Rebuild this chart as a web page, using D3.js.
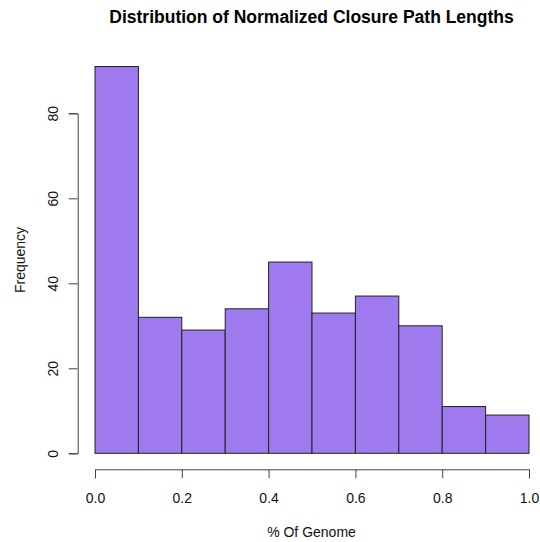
<!DOCTYPE html>
<html><head><meta charset="utf-8">
<script src="https://cdn.jsdelivr.net/npm/d3@7"></script>
<style>body{margin:0;background:#fff}svg{display:block}text{font-family:"Liberation Sans",Arial,sans-serif}</style>
</head><body>
<svg id="c" width="540" height="542"></svg>
<script>
const binEdges = [0,0.1,0.2,0.3,0.4,0.5,0.6,0.7,0.8,0.9,1.0];
const counts = [91,32,29,34,45,33,37,30,11,9];
const xTicks = [0,0.2,0.4,0.6,0.8,1.0];
const yTicks = [0,20,40,60,80];
const title = "Distribution of Normalized Closure Path Lengths";
const xLabel = "% Of Genome";
const yLabel = "Frequency";

const svg = d3.select("#c");
const x = d3.scaleLinear().domain([0,1]).range([95,529]);
const y = d3.scaleLinear().domain([0,80]).range([453.3,113.3]);

svg.append("g").selectAll("rect").data(counts).join("rect")
  .attr("x", (d,i)=>x(binEdges[i]))
  .attr("width", (d,i)=>x(binEdges[i+1])-x(binEdges[i]))
  .attr("y", d=>y(d))
  .attr("height", d=>y(0)-y(d))
  .attr("fill","#9f79ee").attr("stroke","#222").attr("stroke-width",1);

const xa = svg.append("g").attr("transform","translate(0,469.3)")
  .call(d3.axisBottom(x).tickValues(xTicks).tickFormat(d3.format(".1f")).tickSize(9));
const ya = svg.append("g").attr("transform","translate(77.7,0)")
  .call(d3.axisLeft(y).tickValues(yTicks).tickFormat(d3.format("d")).tickSize(9));
[xa,ya].forEach(a=>{
  a.select(".domain").attr("stroke","#444");
  a.selectAll(".tick line").attr("stroke","#444");
  a.selectAll("text").attr("font-size",14).attr("fill","#111").attr("font-family","Liberation Sans, Arial, sans-serif");
});
xa.selectAll(".tick text").attr("y",33.7).attr("dy",0);
ya.selectAll(".tick text").attr("text-anchor","middle").attr("dy",0)
  .attr("transform","rotate(-90)").attr("x",0).attr("y",-20);

svg.append("text").attr("x",311.5).attr("y",22.5).attr("text-anchor","middle")
  .attr("font-size",17.5).attr("font-weight","bold").attr("fill","#000").text(title);
svg.append("text").attr("x",311.5).attr("y",537).attr("text-anchor","middle")
  .attr("font-size",14).attr("fill","#111").text(xLabel);
svg.append("text").attr("transform","translate(25,260) rotate(-90)").attr("text-anchor","middle")
  .attr("font-size",14).attr("fill","#111").text(yLabel);
</script>
</body></html>
